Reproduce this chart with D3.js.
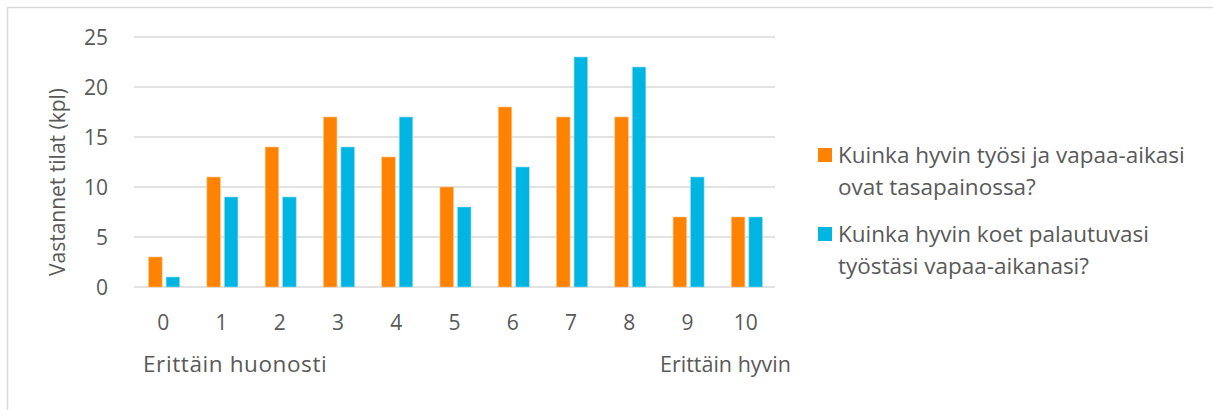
<!DOCTYPE html>
<html><head><meta charset="utf-8">
<script src="https://cdn.jsdelivr.net/npm/d3@7"></script>
<style>html,body{margin:0;padding:0;background:#fff;}svg{display:block;font-family:"Open Sans",sans-serif;}</style>
</head><body>
<svg id="c" width="1213" height="410"></svg>
<script>
const categories = ["0","1","2","3","4","5","6","7","8","9","10"];
const seriesNames = ["Kuinka hyvin työsi ja vapaa-aikasi|ovat tasapainossa?", "Kuinka hyvin koet palautuvasi|työstäsi vapaa-aikanasi?"];
const balanceValues = [3,11,14,17,13,10,18,17,17,7,7];
const recoveryValues = [1,9,9,14,17,8,12,23,22,11,7];
const yTicks = [0,5,10,15,20,25];
const colors = ["#FF8200","#00B5E2"];

(function(){
const svg = d3.select("#c");
svg.append("rect").attr("x",7.5).attr("y",7.5).attr("width",1300).attr("height",500)
  .attr("fill","none").attr("stroke","#d9d9d9").attr("stroke-width",1.5);

const pL=134, pR=775, pT=37, pB=287;
const x = d3.scaleBand().domain(categories).range([pL,pR]).paddingInner(0).paddingOuter(0);
const y = d3.scaleLinear().domain([0,25]).range([pB,pT]);

const grid = svg.append("g");
yTicks.forEach(t=>{
  grid.append("line").attr("x1",pL).attr("x2",pR).attr("y1",y(t)).attr("y2",y(t))
    .attr("stroke","#d9d9d9").attr("stroke-width",1.3);
});

const textColor="#595959";
const fs=21;
const yAxis = d3.axisLeft(y).tickValues(yTicks).tickSize(0).tickPadding(0);
const ga = svg.append("g").attr("transform",`translate(${pL-26},0)`).call(yAxis);
ga.select(".domain").remove();
ga.selectAll("text").attr("fill",textColor).style("font-size",fs+"px").attr("font-family","Open Sans").attr("dy","0.35em");

const xAxis = d3.axisBottom(x).tickSize(0).tickPadding(0);
const gx = svg.append("g").attr("transform",`translate(0,${pB+36})`).call(xAxis);
gx.select(".domain").remove();
gx.selectAll("text").attr("fill",textColor).style("font-size",fs+"px").attr("font-family","Open Sans").attr("dy","0.35em");

const bw=13.5, gap=4;
const data = categories.map((c,i)=>({c, v:[balanceValues[i],recoveryValues[i]]}));
const bars = svg.append("g");
data.forEach(d=>{
  d.v.forEach((v,k)=>{
    const cx = x(d.c)+x.bandwidth()/2;
    const bx = k===0 ? cx-bw-gap/2+1 : cx+gap/2+1;
    bars.append("rect").attr("x",bx).attr("y",y(v)).attr("width",bw).attr("height",y(0)-y(v))
      .attr("fill",colors[k]).attr("stroke", k===0?"#ffc48a":"#8fdcf0").attr("stroke-width",0.6);
  });
});

svg.append("text").attr("transform",`translate(65,182) rotate(-90)`)
  .attr("text-anchor","middle").attr("fill",textColor).style("font-size","21px").text("Vastannet tilat (kpl)");

svg.append("text").attr("x",143).attr("y",372).attr("fill",textColor).style("font-size","22.5px")
  .style("letter-spacing","0.6px").text("Erittäin huonosti");
svg.append("text").attr("x",660).attr("y",372).attr("fill",textColor).style("font-size","21.5px").text("Erittäin hyvin");

const leg = svg.append("g");
const legY=[163,242];
seriesNames.forEach((n,k)=>{
  leg.append("rect").attr("x",818).attr("y",legY[k]-15).attr("width",14).attr("height",14).attr("fill",colors[k]);
  n.split("|").forEach((line,j)=>{
    leg.append("text").attr("x",838).attr("y",legY[k]+j*32).attr("fill",textColor).style("font-size","22.5px").text(line);
  });
});
})();
</script>
</body></html>
